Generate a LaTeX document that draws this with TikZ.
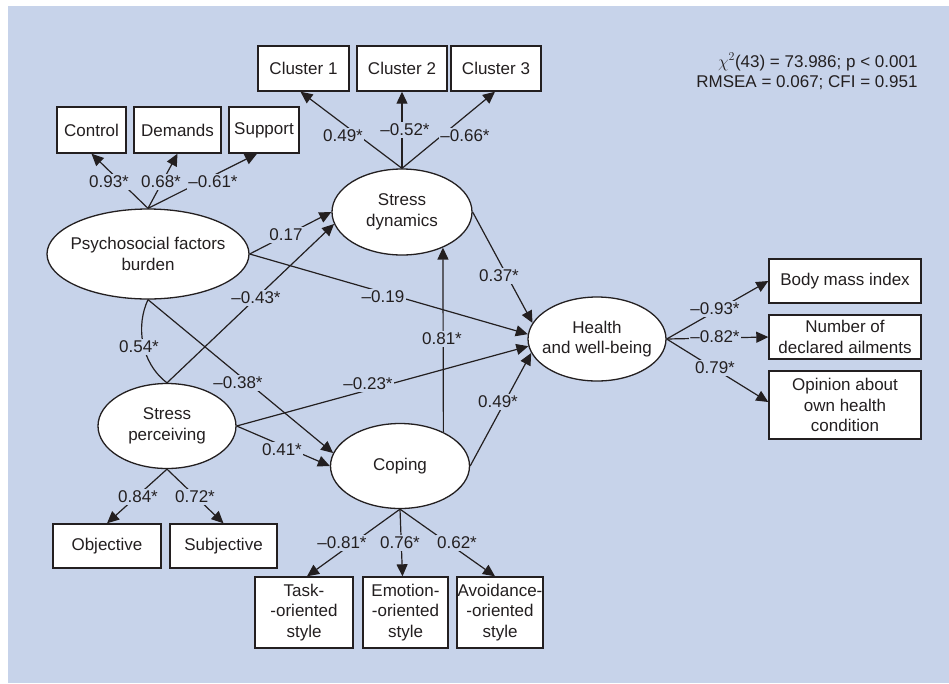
\documentclass[tikz,border=0pt]{standalone}
\usepackage{fontspec}
\setmainfont{Liberation Sans}
\usetikzlibrary{shapes.geometric,arrows.meta}
\definecolor{bgblue}{RGB}{199,211,234}
\definecolor{ink}{RGB}{35,31,32}
\begin{document}
\begin{tikzpicture}[x=1pt,y=-1pt,
  every node/.style={font=\fontsize{17}{20.5}\selectfont, text=ink},
  lat/.style={ellipse, draw=ink, line width=1.3pt, fill=white, inner xsep=-12pt, inner ysep=0pt, align=center},
  obs/.style={rectangle, draw=ink, line width=1.4pt, fill=white, inner sep=0pt, align=center},
  lbl/.style={fill=bgblue, inner sep=1.5pt},
  arr/.style={draw=ink, line width=1.2pt, -{Triangle[length=12pt,width=11pt]}},
  con/.style={draw=ink, line width=1.2pt}]
\useasboundingbox (0,0) rectangle (949,683);
\fill[bgblue] (8,6) rectangle (949,683);

% observed indicators
\node[obs, minimum width=91pt, minimum height=45pt] (c1) at (303.5,68.5) {Cluster 1};
\node[obs, minimum width=90pt, minimum height=45pt] (c2) at (402,68.5) {Cluster 2};
\node[obs, minimum width=90pt, minimum height=45pt] (c3) at (496,68.5) {Cluster 3};
\node[obs, minimum width=69pt, minimum height=46pt] (ctl) at (91.5,130) {Control};
\node[obs, minimum width=87pt, minimum height=46pt] (dem) at (177.5,130) {Demands};
\node[obs, minimum width=70pt, minimum height=46pt] (sup) at (264,130) {Support};
\node[obs, minimum width=108pt, minimum height=44pt] (obj) at (107,546) {Objective};
\node[obs, minimum width=107pt, minimum height=44pt] (subj) at (223.5,546) {Subjective};
\node[obs, minimum width=98pt, minimum height=71pt] (task) at (304,612.5) {Task-\\-oriented\\style};
\node[obs, minimum width=85pt, minimum height=71pt] (emo) at (405.5,612.5) {Emotion-\\-oriented\\style};
\node[obs, minimum width=86pt, minimum height=71pt] (avo) at (500,612.5) {Avoidance-\\-oriented\\style};
\node[obs, minimum width=152pt, minimum height=44pt] (bmi) at (845,281) {Body mass index};
\node[obs, minimum width=152pt, minimum height=44pt] (num) at (845,337) {Number of\\declared ailments};
\node[obs, minimum width=152pt, minimum height=68pt] (opi) at (845,405) {Opinion about\\own health\\condition};

% latent variables
\node[lat, minimum width=202pt, minimum height=90pt] (psy) at (148,254) {Psychosocial factors\\burden};
\node[lat, minimum width=140pt, minimum height=86pt] (sd) at (402,212) {Stress\\dynamics};
\node[lat, minimum width=138pt, minimum height=84pt] (hw) at (597,339) {Health\\and well-being};
\node[lat, minimum width=138pt, minimum height=85pt] (sp) at (167,426) {Stress\\perceiving};
\node[lat, minimum width=139pt, minimum height=85pt] (cop) at (400,466) {Coping};

% measurement paths
\draw[arr] (psy.north) -- (ctl.south);
\draw[arr] (psy.north) -- (dem.south);
\draw[arr] (psy.north) -- ([xshift=-7pt]sup.south);
\draw[arr] (sd.north) -- ([xshift=-3pt]c1.south);
\draw[arr] (sd.north) -- (c2.south);
\draw[arr] (sd.north) -- ([xshift=-1pt]c3.south);
\draw[arr] (sp.south) -- (obj.north);
\draw[arr] (sp.south) -- (subj.north);
\draw[arr] (cop.south) -- ([xshift=3pt]task.north);
\draw[arr] (cop.south) -- ([xshift=-3pt]emo.north);
\draw[arr] (cop.south) -- ([xshift=-5pt]avo.north);
\draw[arr] (hw.east) -- (bmi.west);
\draw[arr] (hw.east) -- (num.west);
\draw[arr] (hw.east) -- ([yshift=3pt]opi.west);

% structural paths
\draw[arr] (psy.east) -- (sd.west);
\draw[arr] (psy.east) -- (hw.176);
\draw[arr] (sp.north) -- (sd.190);
\draw[arr] (psy.south) -- (cop.169);
\draw[arr] (sp.east) -- (cop.west);
\draw[arr] (sp.east) -- (hw.-174);
\draw[arr] (cop.38) -- (sd.-41);
\draw[arr] (cop.east) -- (hw.-168);
\draw[arr] (sd.east) -- (hw.166);
\draw[con] (psy.south) .. controls (136,325) and (140,362) .. (sp.north);

% coefficients
\node[lbl] (l1) at (109,182) {0.93*};
\node[lbl] (l2) at (161,182) {0.68*};
\node[lbl] (l3) at (213,182) {--0.61*};
\node[lbl] (l4) at (343,136) {0.49*};
\node[lbl] (l5) at (405,130) {--0.52*};
\node[lbl] (l6) at (465,136) {--0.66*};
\node[lbl] (l7) at (286,235) {0.17};
\node[lbl] (l8) at (256,298) {--0.43*};
\node[lbl] (l9) at (383,297) {--0.19};
\node[lbl] (l10) at (442,339) {0.81*};
\node[lbl] (l11) at (499,276) {0.37*};
\node[lbl] (l12) at (238,383) {--0.38*};
\node[lbl] (l13) at (368,384) {--0.23*};
\node[lbl] (l14) at (282,450) {0.41*};
\node[lbl] (l15) at (498,402) {0.49*};
\node[lbl] (l16) at (139,347) {0.54*};
\node[lbl] (l17) at (138,497) {0.84*};
\node[lbl] (l18) at (195,497) {0.72*};
\node[lbl] (l19) at (342,543) {--0.81*};
\node[lbl] (l20) at (400,543) {0.76*};
\node[lbl] (l21) at (457,543) {0.62*};
\node[lbl] (l22) at (715,309) {--0.93*};
\node[lbl] (l23) at (715,337) {--0.82*};
\node[lbl] (l24) at (715,368) {0.79*};

% fit statistics
\node[anchor=east] (fit1) at (921,62) {$\chi^{2}$(43) = 73.986; p < 0.001};
\node[anchor=east] (fit2) at (921,83) {RMSEA = 0.067; CFI = 0.951};
\end{tikzpicture}
\end{document}
